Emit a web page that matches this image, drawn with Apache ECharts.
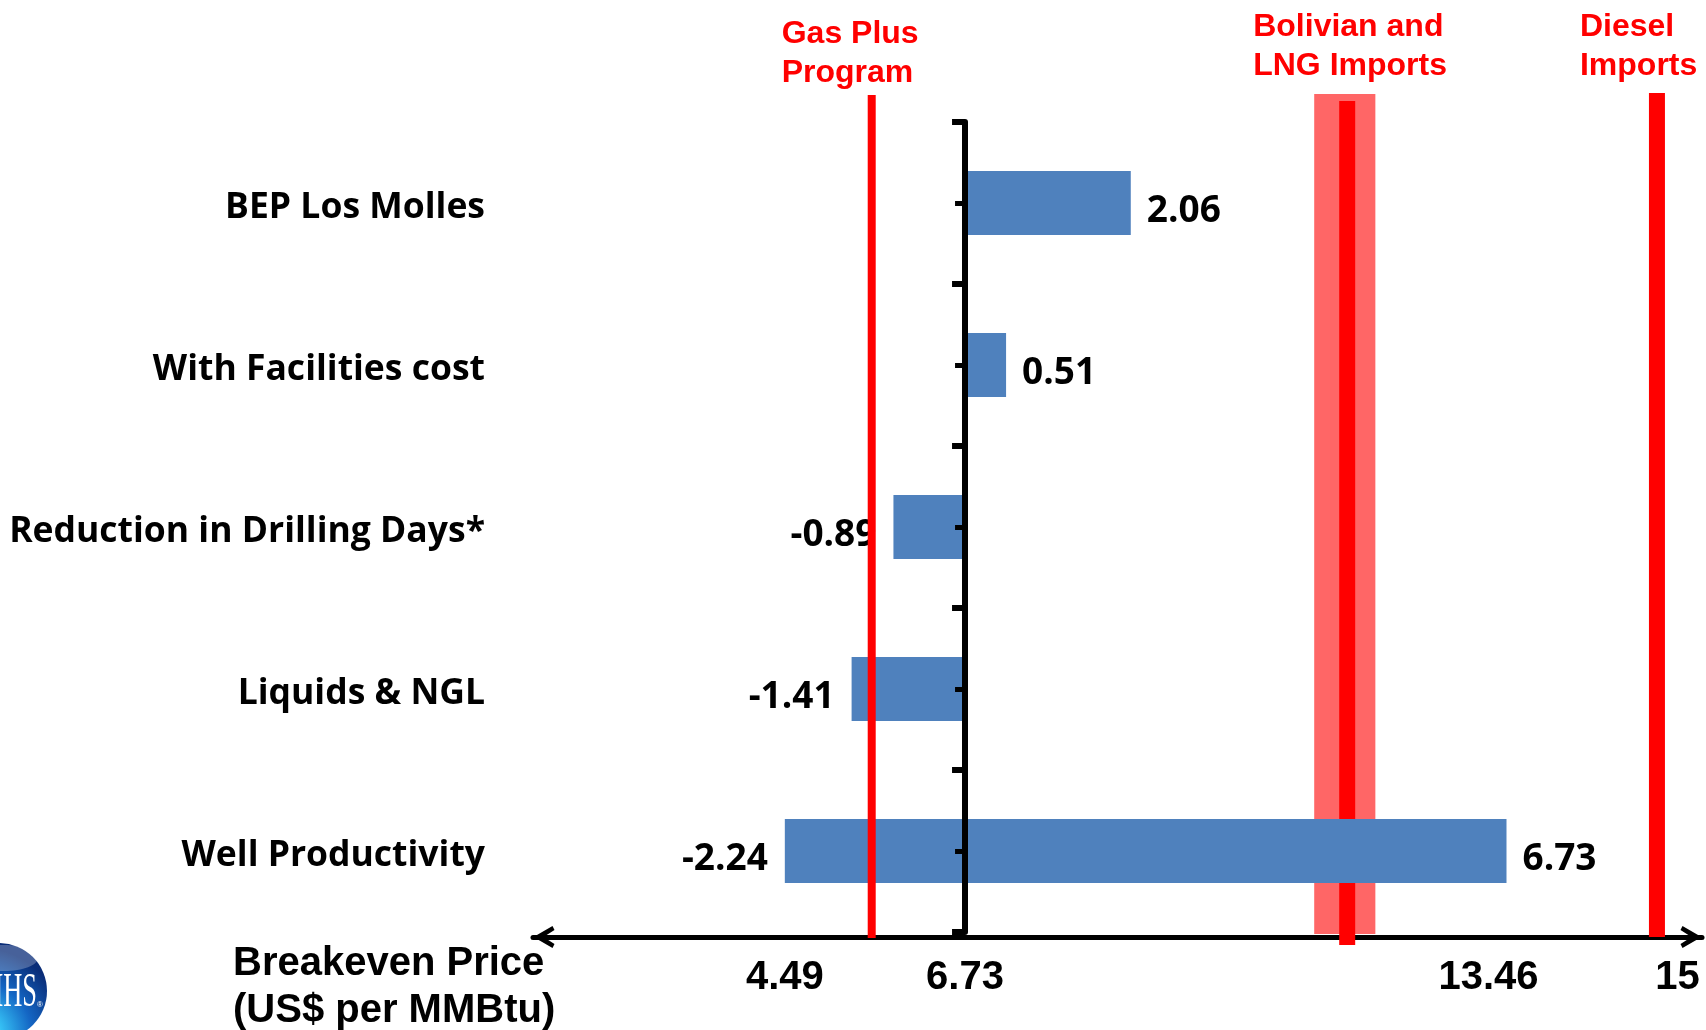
<!DOCTYPE html>
<html>
<head>
<meta charset="utf-8">
<script src="https://cdn.jsdelivr.net/npm/echarts@6/dist/echarts.min.js"></script>
<style>
  html, body { margin: 0; padding: 0; background: #ffffff; }
  #chart { width: 1706px; height: 1030px; }
</style>
</head>
<body>
<div id="chart"></div>
<script>
// Breakeven price sensitivity (US$ per MMBtu) around the base case
const basePrice = 6.73;
const categories = ['BEP Los Molles', 'With Facilities cost', 'Reduction in Drilling Days*', 'Liquids & NGL', 'Well Productivity'];
const downside = [null, null, -0.89, -1.41, -2.24];
const upside = [2.06, 0.51, null, null, 6.73];
const tickPrices = [4.49, 6.73, 13.46, 15];

// Competing supply prices shown as vertical markers
const benchmarkNames = ['Gas Plus\nProgram', 'Bolivian and\nLNG Imports', 'Diesel\nImports'];
const benchmarkPrices = [5.57, 11.48, 15.33];
const importRange = [11.07, 11.83];

// Marker drawing styles (index-aligned with the benchmarks)
const benchmarkStyle = [
  { width: 8,  above: 27, below: 6,  textDx: -90, textTop: -107, layer: 'front' },
  { width: 16, above: 21, below: 13, textDx: -94, textTop: -114, layer: 'back' },
  { width: 16, above: 29, below: 5,  textDx: -77, textTop: -114, layer: 'front' }
];
// Horizontal nudges for bottom price labels (px)
const tickNudge = { '13.46': 'shiftL', '15': 'shiftR' };

const BAR_BLUE = '#4F81BD';
const RED = '#FF0000';
const LABEL_FONT = '"Open Sans", "Noto Sans", sans-serif';
const ARIAL = '"Liberation Sans", Arial, sans-serif';

const toDelta = p => +(p - basePrice).toFixed(4);

function renderBenchmark(params, api) {
  const i = api.value(2);
  const st = benchmarkStyle[i];
  const cs = params.coordSys;
  const x = api.coord([api.value(0), 0])[0];
  return {
    type: 'group',
    children: [
      {
        type: 'rect',
        shape: { x: x - st.width / 2, y: cs.y - st.above, width: st.width, height: cs.height + st.above + st.below },
        style: { fill: RED }
      },
      {
        type: 'text',
        x: x + st.textDx,
        y: cs.y + st.textTop,
        style: {
          text: benchmarkNames[i], fill: RED,
          font: 'bold 32px ' + ARIAL, lineHeight: 39,
          align: 'left', verticalAlign: 'top'
        }
      }
    ]
  };
}

function renderBand(params, api) {
  const cs = params.coordSys;
  const x0 = api.coord([api.value(0), 0])[0];
  const x1 = api.coord([api.value(1), 0])[0];
  return {
    type: 'rect',
    shape: { x: x0, y: cs.y - 28, width: x1 - x0, height: cs.height + 30 },
    style: { fill: '#FF6666' }
  };
}

const benchmarkData = layer => benchmarkPrices
  .map((p, i) => [toDelta(p), 0, i])
  .filter(d => benchmarkStyle[d[2]].layer === layer);

const arrowPath = 'path://M11,0 L22,19 L18,21 L11,10 L4,21 L0,19 Z';

const chart = echarts.init(document.getElementById('chart'), null, { renderer: 'canvas' });

const valueLabel = (position, distance) => ({
  show: true,
  position: position,
  distance: distance,
  offset: [0, 8],
  formatter: p => (p.value == null ? '' : p.value.toFixed(2)),
  fontFamily: LABEL_FONT,
  fontWeight: 'bold',
  fontSize: 37,
  color: '#000'
});

const catText = { fontFamily: LABEL_FONT, fontWeight: 'bold', fontSize: 35.5, color: '#000' };

chart.setOption({
  animation: false,
  backgroundColor: '#ffffff',
  grid: {
    left: 533, right: 4, top: 122, bottom: 98,
    containLabel: false, outerBoundsMode: 'none'
  },
  xAxis: {
    type: 'value',
    min: -5.37,
    max: 9.16,
    offset: 5,
    axisLine: {
      show: true, onZero: false,
      lineStyle: { color: '#000', width: 5 },
      symbol: [arrowPath, arrowPath],
      symbolSize: [22, 22],
      symbolOffset: [11, -11]
    },
    axisTick: { show: false },
    splitLine: { show: false },
    axisLabel: {
      customValues: tickPrices.map(toDelta),
      margin: 21,
      fontFamily: ARIAL, fontWeight: 'bold', fontSize: 40, color: '#000',
      formatter: v => {
        const s = String(+(v + basePrice).toFixed(2));
        return tickNudge[s] ? '{' + tickNudge[s] + '|' + s + '}' : s;
      },
      rich: {
        shiftL: { fontFamily: ARIAL, fontWeight: 'bold', fontSize: 40, color: '#000', padding: [0, 36, 0, 0] },
        shiftR: { fontFamily: ARIAL, fontWeight: 'bold', fontSize: 40, color: '#000', padding: [0, 0, 0, 94] }
      }
    }
  },
  yAxis: [
    {
      type: 'category',
      data: categories,
      inverse: true,
      position: 'left',
      z: 4,
      axisLine: { show: true, onZero: true, onZeroAxisIndex: 0, lineStyle: { color: '#000', width: 6 } },
      axisTick: { show: true, length: 13, lineStyle: { color: '#000', width: 6 } },
      axisLabel: Object.assign({
        margin: 48,
        formatter: v => '{c|' + v + '}',
        rich: { c: Object.assign({ padding: [9, 0, 0, 0] }, catText) }
      }, catText),
      splitLine: { show: false }
    },
    {
      type: 'category',
      data: categories,
      inverse: true,
      position: 'left',
      z: 4,
      axisLine: { show: false, onZero: true, onZeroAxisIndex: 0 },
      axisTick: { show: true, alignWithLabel: true, length: 10, lineStyle: { color: '#000', width: 5 } },
      axisLabel: { show: false },
      splitLine: { show: false }
    }
  ],
  series: [
    {
      type: 'custom',
      name: 'Import price range',
      z: 1,
      renderItem: renderBand,
      encode: { x: [0, 1] },
      data: [[toDelta(importRange[0]), toDelta(importRange[1])]]
    },
    {
      type: 'custom',
      name: 'Benchmarks (back)',
      z: 1,
      renderItem: renderBenchmark,
      encode: { x: 0, y: 1 },
      data: benchmarkData('back')
    },
    {
      type: 'bar',
      name: 'Downside',
      yAxisIndex: 0,
      z: 2,
      barWidth: 64,
      itemStyle: { color: BAR_BLUE },
      label: valueLabel('left', 17),
      data: downside
    },
    {
      type: 'bar',
      name: 'Upside',
      yAxisIndex: 0,
      z: 2,
      barWidth: 64,
      barGap: '-100%',
      itemStyle: { color: BAR_BLUE },
      label: valueLabel('right', 16),
      data: upside
    },
    {
      type: 'custom',
      name: 'Benchmarks (front)',
      z: 5,
      renderItem: renderBenchmark,
      encode: { x: 0, y: 1 },
      data: benchmarkData('front')
    }
  ],
  graphic: [
    {
      type: 'text',
      left: 233,
      top: 940,
      style: {
        text: 'Breakeven Price\n(US$ per MMBtu)',
        font: 'bold 40px ' + ARIAL,
        lineHeight: 47,
        fill: '#000'
      }
    },
    {
      type: 'group',
      children: [
        {
          type: 'circle',
          shape: { cx: -1, cy: 991, r: 48 },
          style: {
            fill: new echarts.graphic.RadialGradient(0.3, 0.95, 0.9, [
              { offset: 0, color: '#eafcff' },
              { offset: 0.25, color: '#35c0f4' },
              { offset: 0.6, color: '#1466c4' },
              { offset: 1, color: '#0a2d78' }
            ])
          }
        },
        {
          type: 'ellipse',
          shape: { cx: 4, cy: 958, rx: 34, ry: 13 },
          style: { fill: 'rgba(255,255,255,0.25)' }
        },
        {
          type: 'text',
          x: 37, y: 993,
          scaleX: 0.55,
          style: {
            text: 'IHS', fill: '#ffffff',
            font: '48px "Liberation Serif", "DejaVu Serif", serif',
            align: 'right', verticalAlign: 'middle'
          }
        },
        {
          type: 'text',
          x: 37, y: 1009,
          style: { text: '®', fill: '#ffffff', font: '8px ' + ARIAL, align: 'left', verticalAlign: 'bottom' }
        }
      ]
    }
  ]
});
</script>
</body>
</html>
